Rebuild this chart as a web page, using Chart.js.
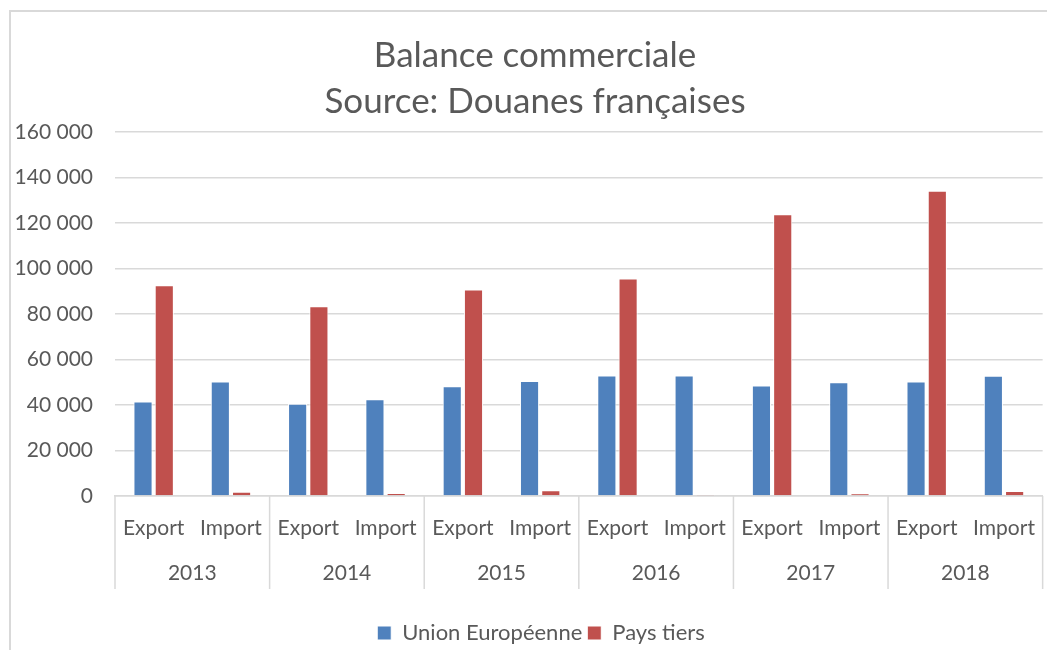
<!DOCTYPE html>
<html>
<head>
<meta charset="utf-8">
<script src="https://cdn.jsdelivr.net/npm/chart.js@4.4.0/dist/chart.umd.min.js"></script>
<style>
  html, body { margin: 0; padding: 0; background: #fff; }
  canvas { display: block; }
</style>
</head>
<body>
<canvas id="balanceChart" width="1047" height="650"></canvas>
<script>
// Données
var years = ['2013', '2014', '2015', '2016', '2017', '2018'];
var flows = ['Export', 'Import'];
var ueValues = [41500, 50300, 40600, 42500, 48200, 50500, 53000, 53000, 48600, 50000, 50300, 52800];
var tiersValues = [92600, 1900, 83400, 1300, 90800, 2500, 95600, 500, 123800, 1200, 134200, 2200];
var yMax = 160000;
var yStep = 20000;

// une étiquette Export / Import par barre
var categories = [];
years.forEach(function () {
    flows.forEach(function (f) { categories.push(f); });
});

var textColor = '#595959';
var gridColor = '#d9d9d9';
var fontFamily = 'Lato, "Open Sans", sans-serif';

// titre et légende un peu décalés, comme dans Excel
var shiftBlocks = {
    id: 'shiftBlocks',
    afterLayout: function (chart) {
        if (chart.titleBlock) chart.titleBlock.left = 25;
        if (chart.legend) {
            chart.legend.left = 37;
            chart.legend.top += 4;
            chart.legend.bottom += 4;
        }
    }
};

// lignes de séparation entre les années + cadre gris
var yearSeparators = {
    id: 'yearSeparators',
    afterDraw: function (chart) {
        var ctx = chart.ctx;
        var x = chart.scales.x;
        var bottom = chart.scales.x2.top + 47;
        ctx.save();
        ctx.strokeStyle = gridColor;
        ctx.lineWidth = 1.5;
        for (var i = 0; i <= years.length; i++) {
            var px;
            if (i === 0) px = x.left;
            else if (i === years.length) px = x.right;
            else px = (x.getPixelForValue(2 * i - 1) + x.getPixelForValue(2 * i)) / 2;
            ctx.beginPath();
            ctx.moveTo(px, chart.chartArea.bottom);
            ctx.lineTo(px, bottom);
            ctx.stroke();
        }
        // cadre
        ctx.lineWidth = 2;
        ctx.beginPath();
        ctx.moveTo(10, chart.height);
        ctx.lineTo(10, 11);
        ctx.lineTo(chart.width, 11);
        ctx.stroke();
        ctx.restore();
    }
};

var ctx = document.getElementById('balanceChart').getContext('2d');

var chartData = {
    labels: categories,
    datasets: [{
        label: 'Union Européenne',
        data: ueValues,
        backgroundColor: '#4f81bd',
        borderColor: '#ffffff',
        borderWidth: 1
    }, {
        label: 'Pays tiers',
        data: tiersValues,
        backgroundColor: '#c0504d',
        borderColor: '#ffffff',
        borderWidth: 1
    }]
};

var chartOptions = {
    responsive: false,
    animation: false,
    layout: { padding: { left: 10, right: 2, top: 0, bottom: 0 } },
    datasets: {
        bar: { categoryPercentage: 0.55, barPercentage: 0.9 }
    },
    plugins: {
        title: {
            display: true,
            text: ['Balance commerciale', 'Source: Douanes françaises'],
            color: textColor,
            font: { family: fontFamily, size: 35, weight: 'normal', lineHeight: 1.314 },
            padding: { top: 33, bottom: 7 }
        },
        legend: {
            position: 'bottom',
            labels: {
                color: textColor,
                boxWidth: 14,
                boxHeight: 14,
                padding: 5,
                font: { family: fontFamily, size: 22 }
            }
        },
        tooltip: { enabled: false }
    },
    scales: {
        y: {
            min: 0,
            max: yMax,
            ticks: {
                stepSize: yStep,
                padding: 22,
                color: textColor,
                font: { family: fontFamily, size: 21 },
                callback: function (v) {
                    return String(v).replace(/\B(?=(\d{3})+(?!\d))/g, ' ');
                }
            },
            grid: { color: gridColor, lineWidth: 1.5, drawTicks: false },
            border: { display: false },
            afterFit: function (s) { s.width = 105; }
        },
        x: {
            grid: { display: false },
            border: { color: gridColor, width: 1.5 },
            ticks: {
                color: textColor,
                padding: 12,
                maxRotation: 0,
                autoSkip: false,
                font: { family: fontFamily, size: 21 }
            },
            afterFit: function (s) { s.height = 46; }
        },
        x2: {
            type: 'category',
            labels: years,
            position: 'bottom',
            grid: { display: false },
            border: { display: false },
            ticks: {
                color: textColor,
                padding: 11,
                maxRotation: 0,
                font: { family: fontFamily, size: 21 }
            },
            afterFit: function (s) { s.height = 71; }
        }
    }
};

var balanceChart = new Chart(ctx, {
    type: 'bar',
    data: chartData,
    options: chartOptions,
    plugins: [shiftBlocks, yearSeparators]
});
</script>
</body>
</html>
